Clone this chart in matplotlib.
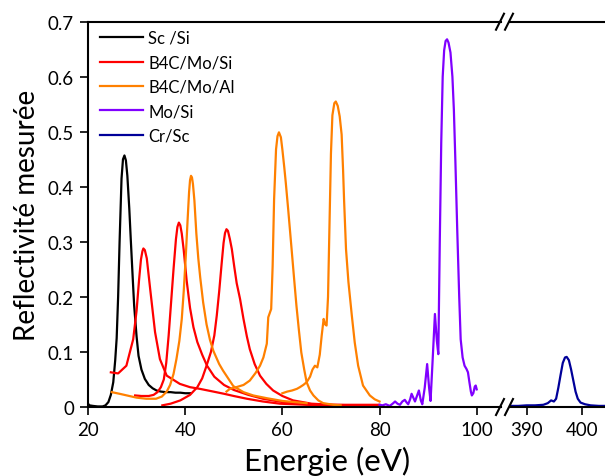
import matplotlib
matplotlib.use("Agg")
import matplotlib.pyplot as plt
from matplotlib.lines import Line2D

plt.rcParams['font.family'] = ['Lato', 'DejaVu Sans']

# --- data (energy in eV, reflectivity) ---
sc_si_e = [20.0, 20.3, 21.0, 22.0, 23.0, 23.6, 24.2, 24.7, 25.2, 25.6, 25.9, 26.2, 26.5,
           26.9, 27.2, 27.5, 27.8, 28.1, 28.5, 28.8, 29.2, 29.5, 30.0, 30.4, 31.0, 31.7,
           32.5, 33.3, 34.1, 35.0, 36.0, 37.0, 38.0, 39.0, 40.0, 41.0]
sc_si_r = [0.006, 0.003, 0.002, 0.001, 0.001, 0.003, 0.009, 0.022, 0.045, 0.085, 0.125,
           0.200, 0.300, 0.415, 0.450, 0.457, 0.448, 0.420, 0.360, 0.305, 0.235, 0.184,
           0.128, 0.093, 0.068, 0.051, 0.040, 0.034, 0.030, 0.028, 0.027, 0.027, 0.026,
           0.026, 0.025, 0.025]

b4c_mo_si_1_e = [24.7, 26.2, 27.9, 29.3, 30.0, 30.5, 30.9, 31.2, 31.4, 31.7, 32.1, 32.8,
                 33.8, 34.8, 36.2, 38.9, 41.0, 43.0, 45.8, 48.0, 50.0, 52.7, 56.0, 59.5,
                 65.0, 70.0, 75.0, 80.0]
b4c_mo_si_1_r = [0.063, 0.061, 0.075, 0.123, 0.175, 0.230, 0.268, 0.283, 0.288, 0.285,
                 0.270, 0.214, 0.136, 0.087, 0.057, 0.042, 0.036, 0.033, 0.028, 0.024,
                 0.020, 0.015, 0.010, 0.006, 0.004, 0.003, 0.003, 0.003]

b4c_mo_si_2_e = [29.7, 31.0, 32.5, 33.5, 34.3, 35.0, 35.6, 36.1, 36.6, 37.1, 37.6, 38.1,
                 38.4, 38.7, 39.0, 39.3, 39.7, 40.3, 41.0, 41.7, 42.5, 43.5, 44.5, 46.0,
                 48.0, 50.0, 53.0, 56.0, 60.0, 65.0, 70.0, 75.0, 80.0]
b4c_mo_si_2_r = [0.021, 0.020, 0.020, 0.022, 0.027, 0.036, 0.050, 0.080, 0.130, 0.190,
                 0.250, 0.305, 0.327, 0.335, 0.330, 0.315, 0.285, 0.230, 0.180, 0.145,
                 0.118, 0.095, 0.075, 0.055, 0.040, 0.031, 0.022, 0.015, 0.009, 0.005,
                 0.004, 0.003, 0.003]

b4c_mo_si_3_e = [35.3, 37.0, 39.0, 41.0, 42.5, 43.5, 44.4, 45.3, 46.0, 46.5, 47.0, 47.5,
                 47.9, 48.2, 48.5, 48.8, 49.2, 49.6, 50.1, 50.6, 51.3, 52.0, 52.7, 53.3,
                 54.3, 55.4, 56.7, 58.1, 60.0, 62.2, 66.0, 70.4, 75.0, 80.0]
b4c_mo_si_3_r = [0.003, 0.006, 0.012, 0.022, 0.036, 0.052, 0.075, 0.100, 0.130, 0.166,
                 0.210, 0.260, 0.298, 0.316, 0.323, 0.320, 0.305, 0.287, 0.255, 0.225,
                 0.196, 0.160, 0.128, 0.105, 0.078, 0.057, 0.042, 0.030, 0.020, 0.012,
                 0.006, 0.004, 0.004, 0.004]

b4c_mo_al_1_e = [24.9, 26.5, 28.0, 30.0, 32.0, 34.0, 35.2, 36.2, 36.9, 37.6, 38.2, 38.8,
                 39.3, 39.7, 40.1, 40.5, 40.8, 41.0, 41.2, 41.4, 41.6, 41.9, 42.3, 42.7,
                 43.1, 43.7, 44.4, 45.1, 45.8, 47.0, 47.8, 49.9, 52.0, 54.0, 56.8, 60.0,
                 63.6, 65.0]
b4c_mo_al_1_r = [0.027, 0.024, 0.021, 0.017, 0.015, 0.015, 0.019, 0.028, 0.040, 0.060,
                 0.087, 0.120, 0.160, 0.210, 0.270, 0.340, 0.390, 0.412, 0.420, 0.417,
                 0.405, 0.375, 0.315, 0.270, 0.235, 0.190, 0.150, 0.122, 0.102, 0.078,
                 0.066, 0.038, 0.027, 0.021, 0.016, 0.011, 0.008, 0.007]

b4c_mo_al_2_e = [48.5, 49.2, 50.5, 52.0, 53.3, 54.5, 55.4, 56.1, 56.8, 57.1, 57.7, 58.0,
                 58.3, 58.7, 59.0, 59.3, 59.7, 60.0, 60.4, 60.7, 61.2, 61.9, 62.4, 62.9,
                 63.4, 63.9, 64.5, 65.0, 65.7, 66.4, 67.4, 68.4, 70.5, 72.0]
b4c_mo_al_2_r = [0.028, 0.033, 0.036, 0.040, 0.048, 0.062, 0.075, 0.090, 0.115, 0.163,
                 0.178, 0.256, 0.377, 0.468, 0.492, 0.499, 0.490, 0.468, 0.435, 0.408,
                 0.359, 0.287, 0.235, 0.184, 0.140, 0.099, 0.068, 0.045, 0.030, 0.021,
                 0.012, 0.007, 0.004, 0.003]

b4c_mo_al_3_e = [60.0, 61.0, 62.0, 63.0, 63.6, 64.3, 65.0, 65.7, 66.2, 66.7, 67.2, 67.7,
                 68.1, 68.5, 68.8, 69.1, 69.4, 69.7, 70.0, 70.3, 70.7, 71.0, 71.4, 71.8,
                 72.2, 72.5, 72.7, 73.1, 73.6, 74.3, 74.9, 75.6, 76.6, 78.0, 79.0, 80.0]
b4c_mo_al_3_r = [0.025, 0.028, 0.030, 0.033, 0.036, 0.040, 0.045, 0.055, 0.068, 0.075,
                 0.072, 0.095, 0.130, 0.160, 0.150, 0.148, 0.200, 0.330, 0.460, 0.530,
                 0.552, 0.555, 0.547, 0.528, 0.495, 0.430, 0.377, 0.287, 0.227, 0.166,
                 0.117, 0.075, 0.039, 0.021, 0.014, 0.010]

mo_si_e = [80.0, 80.6, 81.3, 82.1, 82.7, 83.2, 83.7, 84.2, 84.7, 85.2, 85.6, 85.9, 86.3,
           86.6, 87.0, 87.3, 87.7, 88.1, 88.5, 88.8, 89.3, 89.8, 90.2, 90.5, 90.9, 91.4,
           91.8, 92.1, 92.4, 92.7, 93.0, 93.3, 93.6, 93.9, 94.2, 94.6, 95.0, 95.3, 95.6,
           96.0, 96.4, 96.7, 97.1, 97.5, 97.9, 98.2, 98.5, 98.8, 99.0, 99.3, 99.6, 99.8,
           100.0]
mo_si_r = [0.004, 0.003, 0.005, 0.002, 0.006, 0.010, 0.006, 0.004, 0.010, 0.013, 0.008,
           0.005, 0.014, 0.024, 0.016, 0.010, 0.020, 0.030, 0.012, 0.005, 0.035, 0.078,
           0.035, 0.011, 0.080, 0.169, 0.120, 0.096, 0.300, 0.480, 0.600, 0.648, 0.665,
           0.668, 0.662, 0.644, 0.600, 0.540, 0.450, 0.320, 0.200, 0.123, 0.090, 0.075,
           0.069, 0.063, 0.045, 0.028, 0.021, 0.025, 0.037, 0.039, 0.032]

cr_sc_e = [387.0, 388.5, 390.0, 391.5, 393.0, 393.8, 394.4, 394.9, 395.3, 395.7, 396.1,
           396.5, 396.9, 397.2, 397.6, 398.0, 398.4, 398.8, 399.2, 399.7, 400.5, 401.5,
           403.0, 404.1]
cr_sc_r = [0.002, 0.002, 0.003, 0.003, 0.004, 0.007, 0.012, 0.010, 0.015, 0.035, 0.058,
           0.080, 0.090, 0.091, 0.085, 0.068, 0.048, 0.028, 0.015, 0.008, 0.005, 0.003,
           0.002, 0.002]

labels = ["Sc /Si", "B4C/Mo/Si", "B4C/Mo/Al", "Mo/Si", "Cr/Sc"]
colors = ["#000000", "#ff0000", "#ff8000", "#8000ff", "#000099"]

left_ticks = [20, 40, 60, 80, 100]
right_ticks = [390, 400]
y_ticks = [0, 0.1, 0.2, 0.3, 0.4, 0.5, 0.6, 0.7]

W, H = 605, 477
fig = plt.figure(figsize=(W / 100, H / 100), dpi=100)


def px_rect(x0, y0, x1, y1):
    return [x0 / W, 1 - y1 / H, (x1 - x0) / W, (y1 - y0) / H]


ax1 = fig.add_axes(px_rect(88, 22.7, 501, 408))
ax2 = fig.add_axes(px_rect(510, 22.7, 605, 408))

lw = 1.6
ax1.plot(sc_si_e, sc_si_r, color=colors[0], lw=lw)
ax1.plot(b4c_mo_si_1_e, b4c_mo_si_1_r, color=colors[1], lw=lw)
ax1.plot(b4c_mo_si_2_e, b4c_mo_si_2_r, color=colors[1], lw=lw)
ax1.plot(b4c_mo_si_3_e, b4c_mo_si_3_r, color=colors[1], lw=lw)
ax1.plot(b4c_mo_al_1_e, b4c_mo_al_1_r, color=colors[2], lw=lw)
ax1.plot(b4c_mo_al_2_e, b4c_mo_al_2_r, color=colors[2], lw=lw)
ax1.plot(b4c_mo_al_3_e, b4c_mo_al_3_r, color=colors[2], lw=lw)
ax1.plot(mo_si_e, mo_si_r, color=colors[3], lw=lw)
ax2.plot(cr_sc_e, cr_sc_r, color=colors[4], lw=lw)

ax1.set_xlim(20, 105.0)
ax2.set_xlim(387.0, 404.1)
for ax in (ax1, ax2):
    ax.set_ylim(0, 0.7)
    ax.spines['right'].set_visible(False)
    for s in ('top', 'bottom', 'left'):
        ax.spines[s].set_linewidth(1.5)
    ax.tick_params(direction='out', length=6, width=1.2, labelsize=13.5, pad=4)

ax1.set_xticks(left_ticks)
ax1.set_yticks(y_ticks)
ax1.set_yticklabels(["0" if v == 0 else f"{v:.1f}" for v in y_ticks])
ax2.set_xticks(right_ticks)
ax2.spines['left'].set_visible(False)
ax2.tick_params(axis='y', left=False, labelleft=False)

ax1.set_ylabel("Reflectivité mesurée", fontsize=20, labelpad=6)
fig.text(327 / W, 1 - 461 / H, "Energie (eV)", fontsize=22.5, ha='center', va='center')

handles = [Line2D([], [], color=c, lw=lw) for c in colors]
fig.legend(handles, labels, loc='upper left', bbox_to_anchor=(100 / W, 1 - 31 / H),
           frameon=False, fontsize=12, handlelength=2.6, handletextpad=0.3,
           labelspacing=0.5, borderpad=0, borderaxespad=0)

# axis break marks
for yb in (408, 22.7):
    for xb in (500, 509):
        fig.add_artist(Line2D([(xb - 4) / W, (xb + 4) / W],
                              [1 - (yb + 8) / H, 1 - (yb - 8) / H],
                              transform=fig.transFigure, color='k', lw=1.5))

fig.savefig("out.png", dpi=100)
